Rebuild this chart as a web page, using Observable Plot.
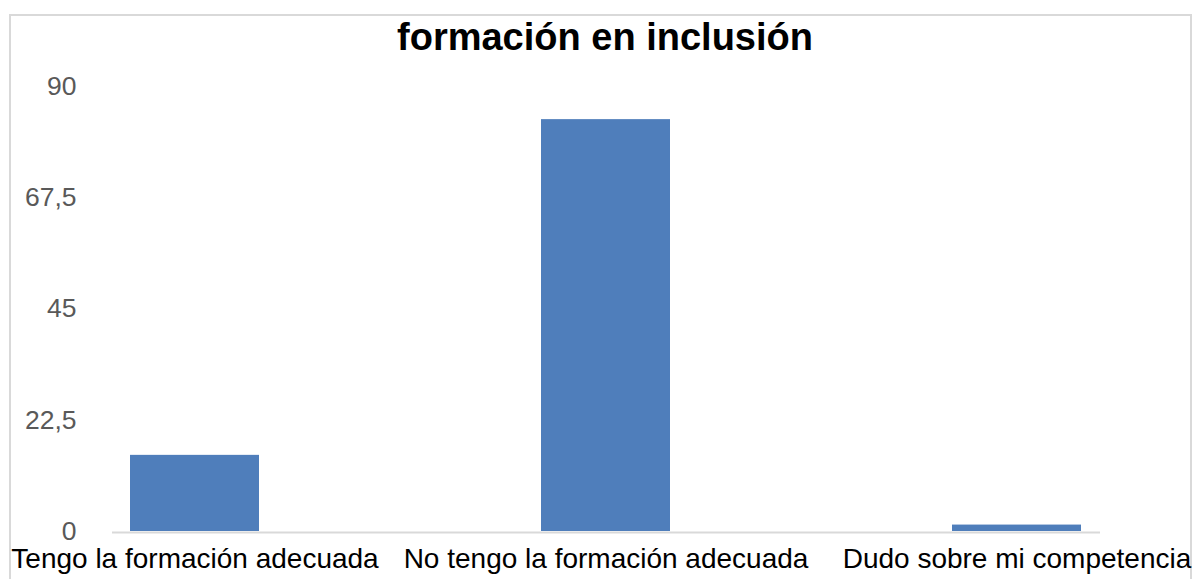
<!DOCTYPE html>
<html>
<head>
<meta charset="utf-8">
<script src="https://cdn.jsdelivr.net/npm/d3@7"></script>
<script src="https://cdn.jsdelivr.net/npm/@observablehq/plot@0.6"></script>
<style>
  html, body { margin: 0; padding: 0; background: #fff; }
  #wrap { position: relative; width: 1196px; height: 579px; overflow: hidden; font-family: "Liberation Sans", Arial, Helvetica, sans-serif; }
  #frame { position: absolute; left: 9px; top: 14px; width: 1179px; height: 600px; border: 2px solid #d9d9d9; border-bottom: none; }
  #title { position: relative; height: 45px; padding-top: 15px; line-height: 44px; font-size: 38px; font-weight: bold; color: #000; text-align: center; padding-left: 14px; box-sizing: content-box; }
  #chart { position: relative; }
</style>
</head>
<body>
<div id="wrap">
  <div id="frame"></div>
  <div id="title">formación en inclusión</div>
  <div id="chart"></div>
</div>
<script>
const categories = ["Tengo la formación adecuada", "No tengo la formación adecuada", "Dudo sobre mi competencia"];
const values = [15.4, 83.3, 1.3];
const yTicks = [0, 22.5, 45, 67.5, 90];

const data = categories.map((c, i) => ({category: c, value: values[i]}));

const chart = Plot.plot({
  width: 1196,
  height: 519,
  marginTop: 26,
  marginBottom: 48,
  marginLeft: 112,
  marginRight: 96,
  style: {fontFamily: "'Liberation Sans', Arial, Helvetica, sans-serif", fontSize: "27px", background: "transparent", overflow: "visible"},
  x: {domain: categories, range: [-153.1, 1365.1], padding: 0.685, label: null},
  y: {domain: [0, 90], label: null},
  marks: [
    Plot.barY(data, {x: "category", y: "value", fill: "#4f7ebb"}),
    Plot.ruleY([0], {stroke: "#d9d9d9", strokeWidth: 2, dy: 1}),
    Plot.axisY({ticks: yTicks, tickSize: 0, tickPadding: 36, tickFormat: d => String(d).replace(".", ","), fill: "#595959", fontSize: 26.5, label: null}),
    Plot.axisX({tickSize: 0, tickPadding: 17, fill: "#000", fontSize: 28, label: null})
  ]
});
document.getElementById("chart").appendChild(chart);
</script>
</body>
</html>
